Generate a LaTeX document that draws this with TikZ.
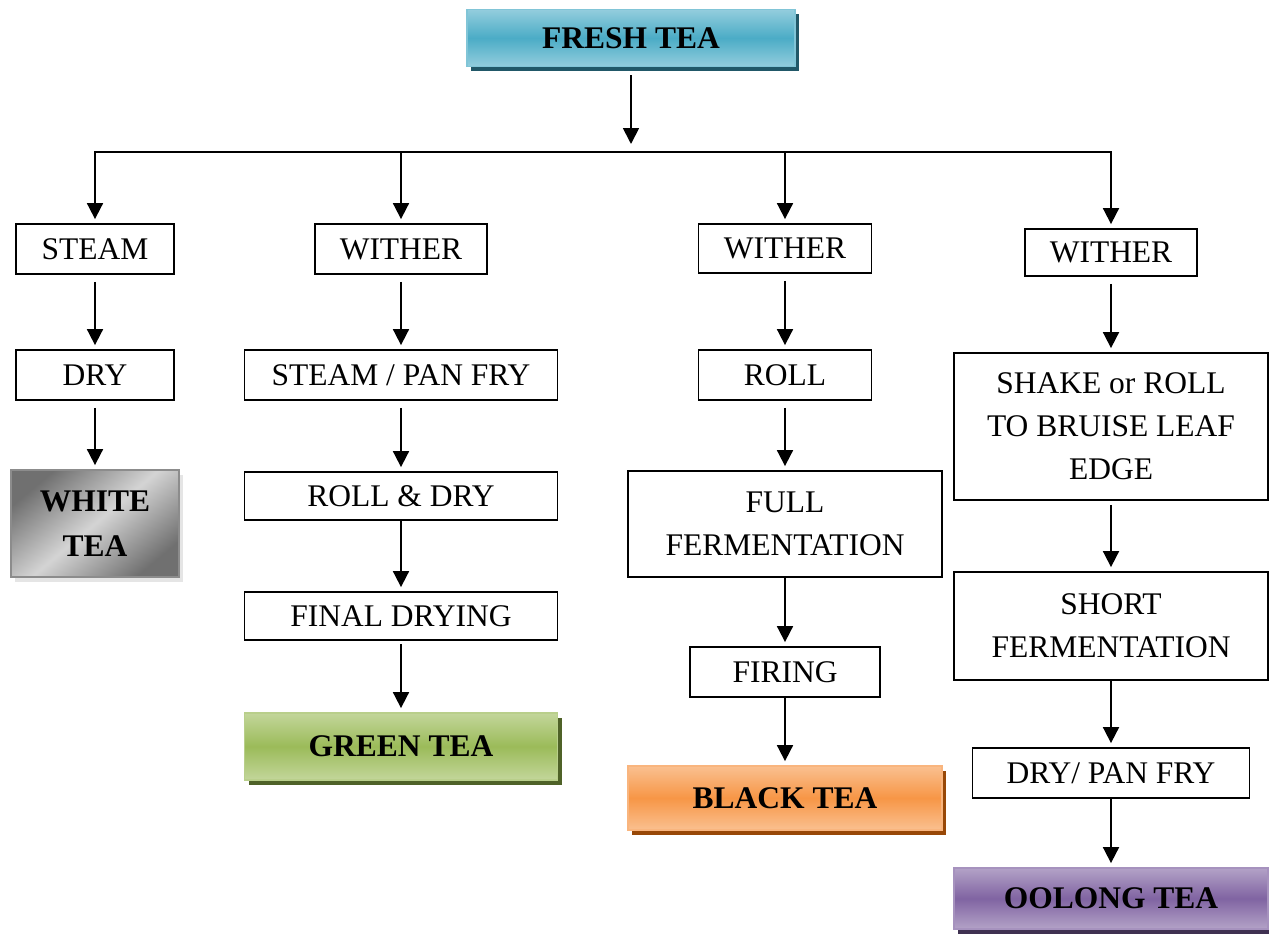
\documentclass[tikz,border=0pt]{standalone}
\usepackage{fontspec}
\setmainfont{Liberation Serif}
\usetikzlibrary{arrows.meta,shadows}
\definecolor{cyanM}{HTML}{4BACC6}
\definecolor{cyanL}{HTML}{93CDDD}
\definecolor{cyanS}{HTML}{215868}
\definecolor{greenM}{HTML}{9BBB59}
\definecolor{greenL}{HTML}{C3D69B}
\definecolor{greenS}{HTML}{4F6228}
\definecolor{orangeM}{HTML}{F79646}
\definecolor{orangeL}{HTML}{FAC090}
\definecolor{orangeS}{HTML}{984807}
\definecolor{purpleM}{HTML}{8064A2}
\definecolor{purpleL}{HTML}{B3A2C7}
\definecolor{purpleS}{HTML}{3F3151}
\definecolor{grayD}{HTML}{707070}
\definecolor{grayL}{HTML}{D4D4D4}
\begin{document}
\begin{tikzpicture}[x=1pt,y=-1pt,
  every node/.style={font=\fontsize{31.5}{43}\selectfont, inner sep=0pt, align=center},
  stepbox/.style={draw=black, line width=1.8pt, fill=white},
  teabox/.style={line width=1.8pt, font=\fontsize{31.5}{45}\selectfont\bfseries},
  cbox/.style n args={3}{teabox, draw=#1!70!white, top color=#2, bottom color=#2, middle color=#1,
     drop shadow={shadow xshift=4pt, shadow yshift=-5pt, fill=#3, opacity=1}},
  conn/.style={line width=1.8pt, black},
  arr/.style={conn, -{Triangle[width=16pt,length=16pt]}}
]
\useasboundingbox (0,0) rectangle (1269,934);
% top
\node[cbox={cyanM}{cyanL}{cyanS}, minimum width=328pt, minimum height=57pt] (fresh) at (631,38) {FRESH TEA};
% column 1
\node[stepbox, minimum width=158pt, minimum height=50pt] (steamA) at (95,249) {STEAM};
\node[stepbox, minimum width=158pt, minimum height=50pt] (dryA) at (95,375) {DRY};
\node[teabox, draw=gray!90, shading=axis, top color=grayD, bottom color=grayD, middle color=grayL, shading angle=40,
  drop shadow={shadow xshift=4pt, shadow yshift=-5pt, fill=gray!20, opacity=1},
  minimum width=168pt, minimum height=107pt] (white) at (95,523.5) {WHITE\\TEA};
% column 2
\node[stepbox, minimum width=172pt, minimum height=50pt] (witherB) at (401,249) {WITHER};
\node[stepbox, minimum width=313pt, minimum height=50pt] (spf) at (401,375) {STEAM / PAN FRY};
\node[stepbox, minimum width=313pt, minimum height=48pt] (rdry) at (401,496) {ROLL \& DRY};
\node[stepbox, minimum width=313pt, minimum height=48pt] (final) at (401,616) {FINAL DRYING};
\node[cbox={greenM}{greenL}{greenS}, minimum width=313pt, minimum height=67pt] (green) at (401,746.5) {GREEN TEA};
% column 3
\node[stepbox, minimum width=173pt, minimum height=49pt] (witherC) at (785,248.5) {WITHER};
\node[stepbox, minimum width=173pt, minimum height=50pt] (roll) at (785,375) {ROLL};
\node[stepbox, minimum width=314pt, minimum height=106pt] (full) at (785,524) {FULL\\FERMENTATION};
\node[stepbox, minimum width=190pt, minimum height=50pt] (firing) at (785,672) {FIRING};
\node[cbox={orangeM}{orangeL}{orangeS}, minimum width=314pt, minimum height=64pt] (black) at (785,798) {BLACK TEA};
% column 4
\node[stepbox, minimum width=172pt, minimum height=47pt] (witherD) at (1111,252.5) {WITHER};
\node[stepbox, minimum width=314pt, minimum height=147pt] (shake) at (1111,426.5) {SHAKE or ROLL\\TO BRUISE LEAF\\EDGE};
\node[stepbox, minimum width=314pt, minimum height=108pt] (short) at (1111,626) {SHORT\\FERMENTATION};
\node[stepbox, minimum width=277pt, minimum height=50pt] (dpf) at (1111,773) {DRY/ PAN FRY};
\node[cbox={purpleM}{purpleL}{purpleS}, minimum width=314pt, minimum height=61pt] (oolong) at (1111,898.5) {OOLONG TEA};
% branching
\coordinate (fa) at (631,144);
\coordinate (h1) at (95,152);
\coordinate (h2) at (401,152);
\coordinate (h3) at (785,152);
\coordinate (h4) at (1111,152);
\draw[arr] ([yshift=-8pt]fresh.south) -- (fa);
\draw[conn] ([xshift=-0.9pt]h1) -- ([xshift=0.9pt]h4);
\draw[arr] (h1) -- ([yshift=4pt]steamA.north);
\draw[arr] (h2) -- ([yshift=4pt]witherB.north);
\draw[arr] (h3) -- ([yshift=4pt]witherC.north);
\draw[arr] (h4) -- ([yshift=4pt]witherD.north);
% column arrows
\draw[arr] ([yshift=-7pt]steamA.south) -- ([yshift=4pt]dryA.north);
\draw[arr] ([yshift=-7pt]dryA.south) -- ([yshift=4pt]white.north);
\draw[arr] ([yshift=-7pt]witherB.south) -- ([yshift=4pt]spf.north);
\draw[arr] ([yshift=-7pt]spf.south) -- ([yshift=4pt]rdry.north);
\draw[arr] (rdry.south) -- ([yshift=4pt]final.north);
\draw[arr] ([yshift=-3pt]final.south) -- ([yshift=4pt]green.north);
\draw[arr] ([yshift=-7pt]witherC.south) -- ([yshift=4pt]roll.north);
\draw[arr] ([yshift=-7pt]roll.south) -- ([yshift=4pt]full.north);
\draw[arr] (full.south) -- ([yshift=4pt]firing.north);
\draw[arr] (firing.south) -- ([yshift=4pt]black.north);
\draw[arr] ([yshift=-7pt]witherD.south) -- ([yshift=4pt]shake.north);
\draw[arr] ([yshift=-4pt]shake.south) -- ([yshift=4pt]short.north);
\draw[arr] (short.south) -- ([yshift=4pt]dpf.north);
\draw[arr] (dpf.south) -- ([yshift=4pt]oolong.north);
\end{tikzpicture}
\end{document}
